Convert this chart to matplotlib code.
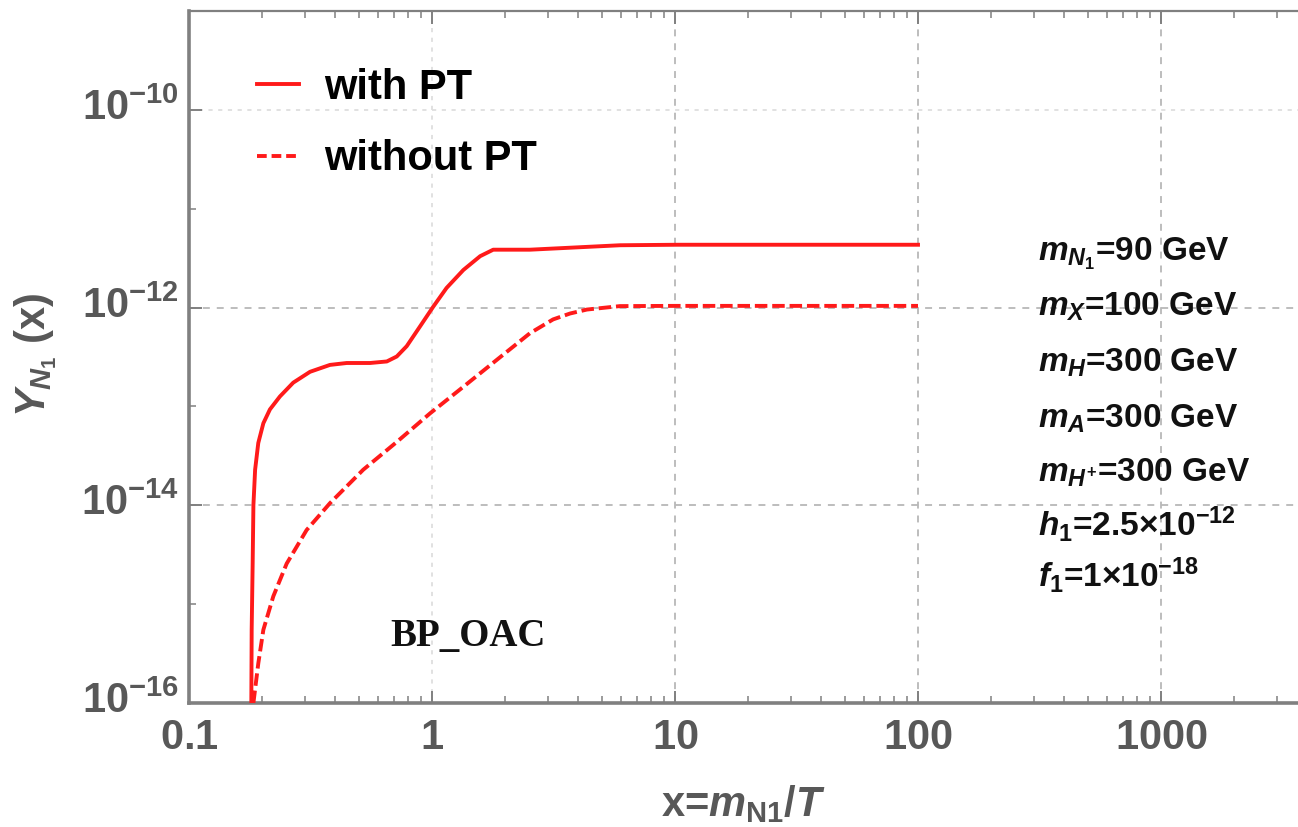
import matplotlib
matplotlib.use('Agg')
import matplotlib.pyplot as plt
from matplotlib.ticker import FixedLocator, FixedFormatter, NullFormatter
from matplotlib.lines import Line2D
from matplotlib.transforms import ScaledTranslation

# ---------------- data ----------------
x_with = [0.1805, 0.1811, 0.1828, 0.1841, 0.1871, 0.1928, 0.2023, 0.2153, 0.2366,
          0.2685, 0.3148, 0.3802, 0.4457, 0.5559, 0.6516, 0.7161, 0.7870, 0.8933,
          1.0116, 1.148, 1.346, 1.578, 1.786, 2.529, 5.94, 10.2, 100]
y_with = [1.0e-16, 5.5e-16, 2.57e-15, 1.0e-14, 2.29e-14, 4.27e-14, 6.76e-14, 9.33e-14,
          1.26e-13, 1.74e-13, 2.24e-13, 2.63e-13, 2.75e-13, 2.75e-13, 2.85e-13,
          3.20e-13, 4.07e-13, 6.46e-13, 1.02e-12, 1.58e-12, 2.40e-12, 3.31e-12,
          3.85e-12, 3.85e-12, 4.27e-12, 4.32e-12, 4.32e-12]

x_without = [0.1841, 0.1928, 0.2023, 0.2223, 0.2523, 0.3048, 0.3802, 0.5212, 0.7161,
             0.9817, 1.346, 1.845, 2.529, 3.15, 3.70, 4.34, 5.94, 10, 100]
y_without = [1.0e-16, 2.51e-16, 5.5e-16, 1.20e-15, 2.57e-15, 5.62e-15, 1.05e-14,
             2.29e-14, 4.37e-14, 8.51e-14, 1.58e-13, 2.95e-13, 5.50e-13, 7.59e-13,
             8.71e-13, 9.55e-13, 1.035e-12, 1.04e-12, 1.04e-12]

series_labels = ['with PT', 'without PT']
x_ticks = [0.1, 1, 10, 100, 1000]
x_ticklabels = [r'$0.1$', r'$1$', r'$10$', r'$100$', r'$1000$']
x_minor = [m * 10.0 ** e for e in range(-1, 4) for m in range(2, 10)]
y_ticks = [1e-16, 1e-14, 1e-12, 1e-10]
y_ticklabels = [r'$10^{-16}$', r'$10^{-14}$', r'$10^{-12}$', r'$10^{-10}$']
y_minor = [1e-15, 1e-13, 1e-11]
param_lines = [r'$m_{N_1}$=90 GeV', r'$m_{X}$=100 GeV', r'$m_{H}$=300 GeV',
               r'$m_{A}$=300 GeV', r'$m_{H^{+}}$=300 GeV',
               r'$h_1$=2.5$\times$10$^{-12}$', r'$f_1$=1$\times$10$^{-18}$']
bp_label = 'BP_OAC'
xlabel = r'x=$m_{\mathrm{N1}}/T$'
ylabel = r'$Y_{N_1}$ (x)'

# ---------------- style ----------------
plt.rcParams['font.family'] = ['Liberation Sans', 'DejaVu Sans']
plt.rcParams['mathtext.fontset'] = 'custom'
plt.rcParams['mathtext.rm'] = 'Liberation Sans:bold'
plt.rcParams['mathtext.bf'] = 'Liberation Sans:bold'
plt.rcParams['mathtext.sf'] = 'Liberation Sans:bold'
plt.rcParams['mathtext.it'] = 'Liberation Sans:italic:bold'
plt.rcParams['lines.scale_dashes'] = False

W, H, DPI = 1298, 827, 100
L, R, T, B = 189, 1298, 11, 703
fig = plt.figure(figsize=(W / DPI, H / DPI), dpi=DPI)
ax = fig.add_axes([L / W, 1 - B / H, (R - L) / W, (B - T) / H])
ax.set_xscale('log')
ax.set_yscale('log')
ax.set_xlim(0.1, 10 ** ((R - L) / 243.0 - 1))
ax.set_ylim(1e-16, 1e-9)

red = '#ff1a1a'
ax.plot(x_with, y_with, color=red, lw=2.8, solid_joinstyle='round', zorder=3)
ax.plot(x_without, y_without, color=red, lw=2.8, linestyle=(0, (9, 3.5)), zorder=3)

ax.xaxis.set_major_locator(FixedLocator(x_ticks))
ax.xaxis.set_major_formatter(FixedFormatter(x_ticklabels))
ax.xaxis.set_minor_locator(FixedLocator(x_minor))
ax.xaxis.set_minor_formatter(NullFormatter())
ax.yaxis.set_major_locator(FixedLocator(y_ticks))
ax.yaxis.set_major_formatter(FixedFormatter(y_ticklabels))
ax.yaxis.set_minor_locator(FixedLocator(y_minor))
ax.yaxis.set_minor_formatter(NullFormatter())

gray = '#808080'
ax.tick_params(which='major', direction='in', length=9, width=1.4, color=gray,
               labelcolor='#585858', labelsize=30, top=True, right=False)
ax.tick_params(which='minor', direction='in', length=5, width=1.1, color=gray,
               top=True, right=False)
ax.tick_params(axis='x', which='major', pad=11)
ax.tick_params(axis='y', which='major', pad=7)

ax.spines['right'].set_visible(False)
for s in ('left', 'bottom'):
    ax.spines[s].set_color(gray)
    ax.spines[s].set_linewidth(2.6)
ax.spines['top'].set_color(gray)
ax.spines['top'].set_linewidth(1.6)

ax.grid(True, which='major', color='#b8b8b8', linestyle=(0, (5, 5)), lw=1.3, zorder=1)
ax.grid(False, which='minor')
ax.set_axisbelow(True)
# fainter grid lines at x = 1 and y = 1e-10, as in the reference
xt = ax.xaxis.get_major_ticks()
yt = ax.yaxis.get_major_ticks()
for t in (xt[1], yt[3]):
    t.gridline.set_color('#dedede')
    t.gridline.set_linestyle((0, (3, 4)))
# lift the y tick labels slightly so the base "10" sits on the tick
lift = ScaledTranslation(0, 4 / 72, fig.dpi_scale_trans)
for t in yt:
    t.label1.set_transform(t.label1.get_transform() + lift)

handles = [Line2D([], [], color=red, lw=2.8),
           Line2D([], [], color=red, lw=2.8, linestyle=(0, (7, 3.5)))]
leg = ax.legend(handles, series_labels, loc='upper left',
                bbox_to_anchor=(257 / W, 1 - 68 / H), bbox_transform=fig.transFigure,
                frameon=False, prop={'weight': 'bold', 'size': 30},
                handlelength=1.0, handletextpad=0.6, labelspacing=0.75,
                borderpad=0, borderaxespad=0)

baselines = [261, 316, 372, 428, 482, 536, 587]
for txt, yb in zip(param_lines, baselines):
    fig.text(1038 / W, 1 - yb / H, txt, ha='left', va='baseline',
             fontsize=24, fontweight='bold', color='#111111')

fig.text(468 / W, 1 - 636 / H, bp_label, ha='center', va='center',
         fontsize=28, fontweight='bold', family='Liberation Serif', color='#111111')

fig.text((L + R) / 2 / W, 1 - 804 / H, xlabel, ha='center', va='center',
         fontsize=30, fontweight='bold', color='#585858')
fig.text(36 / W, 1 - 355 / H, ylabel, ha='center', va='center', rotation=90,
         fontsize=30, fontweight='bold', color='#585858')

fig.savefig('out.png', dpi=DPI)
